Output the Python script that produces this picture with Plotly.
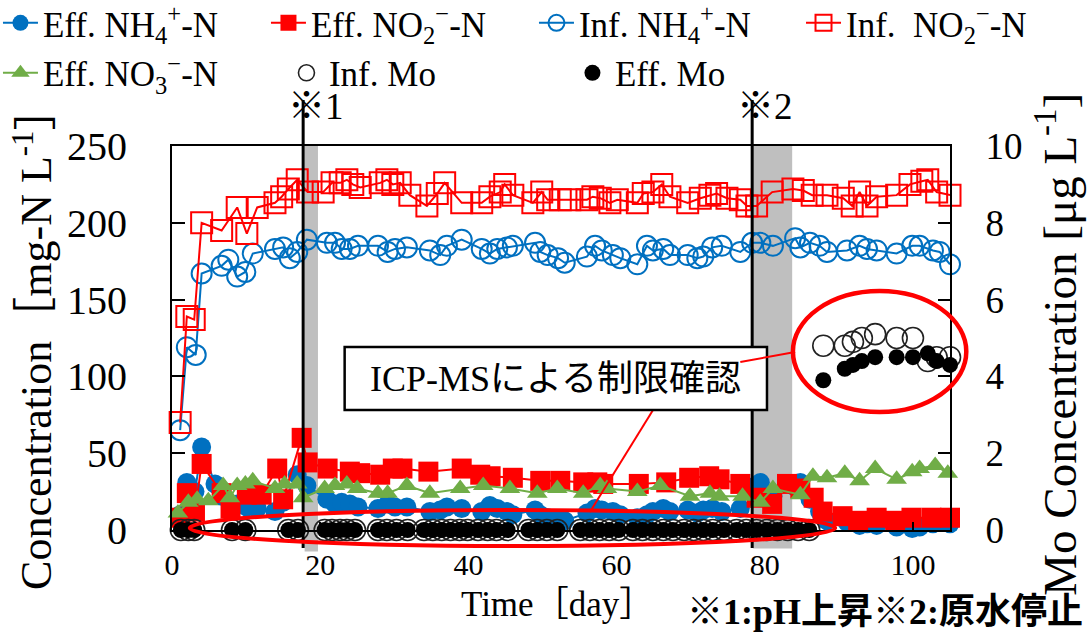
import plotly.graph_objects as go

# ---------------- data ----------------
inf_nh4_day = [1.1, 2.0, 3.2, 4.0, 6.7, 7.6, 8.8, 9.9, 10.9, 13.9, 15.0, 15.9, 16.9, 18.2, 20.9, 22.0, 22.9, 24.0,
               25.1, 27.8, 29.1, 30.1, 31.7, 34.8, 36.2, 37.1, 39.1, 41.8, 42.9, 43.9, 45.2, 46.0, 49.0, 49.7, 50.7,
               52.1, 53.0, 56.0, 57.1, 58.0, 59.5, 60.5, 62.8, 64.1, 64.9, 66.3, 67.2, 69.6, 70.9, 71.7, 72.9, 74.2,
               76.7, 78.3, 79.4, 81.1, 84.1, 84.8, 86.1, 87.4, 88.4, 91.1, 92.8, 93.8, 95.1, 97.8, 99.9, 100.9, 102.7,
               103.6, 105.0]
inf_nh4 = [65, 119, 114, 167, 172, 176, 165, 168, 180, 183, 184, 177, 181, 189, 187, 187, 183, 183,
           185, 185, 181, 183, 184, 182, 179, 185, 189, 183, 180, 183, 184, 185, 187, 181, 179,
           177, 174, 178, 185, 182, 179, 177, 173, 185, 182, 183, 179, 179, 177, 178, 184, 185,
           181, 187, 187, 185, 190, 184, 187, 185, 181, 182, 185, 183, 182, 180, 185, 185, 182,
           181, 173]

inf_no2_day = [1.1, 2.0, 3.0, 4.0, 6.7, 8.8, 10.1, 11.5, 13.9, 14.8, 15.7, 16.9, 18.3, 20.4, 21.6, 22.7, 23.6, 24.4,
               25.4, 28.1, 29.0, 29.8, 30.8, 32.1, 34.4, 35.8, 36.8, 39.1, 41.8, 42.9, 44.3, 44.9, 46.0, 48.7, 49.9,
               50.7, 52.4, 53.7, 56.0, 56.8, 57.8, 59.1, 60.1, 62.8, 63.6, 64.9, 66.1, 67.2, 69.6, 71.3, 72.6, 73.5,
               74.9, 76.7, 77.6, 78.9, 81.0, 83.8, 85.2, 86.4, 88.4, 90.6, 91.8, 92.8, 93.8, 95.1, 97.8, 99.6, 101.2,
               102.0, 103.2, 105.0]
inf_no2 = [70, 139, 137, 200, 195, 210, 193, 210, 213, 217, 222, 228, 220, 220, 226, 226, 228, 225,
           223, 226, 228, 225, 226, 218, 211, 219, 226, 213, 213, 217, 220, 225, 218, 213, 220,
           215, 215, 215, 215, 217, 216, 213, 215, 213, 219, 220, 225, 217, 213, 216, 218, 219,
           216, 215, 211, 211, 220, 222, 221, 218, 218, 216, 211, 220, 211, 217, 218, 225, 227,
           228, 220, 218]

eff_nh4_day = [1.1, 2.0, 3.1, 4.0, 5.8, 6.7, 8.8, 10.1, 11.5, 13.9, 15.0, 16.9, 18.2, 20.9, 22.0, 22.9, 24.0, 25.1,
               27.8, 29.1, 30.1, 31.7, 34.8, 36.2, 37.1, 39.1, 41.8, 42.9, 43.9, 45.2, 46.0, 49.0, 49.7, 50.7, 52.1,
               53.0, 56.0, 57.1, 58.0, 59.5, 60.5, 62.8, 64.1, 64.9, 66.3, 67.2, 69.6, 70.9, 71.7, 72.9, 74.2, 76.7,
               78.3, 79.4, 81.1, 84.1, 84.8, 86.1, 87.4, 88.4, 91.1, 92.8, 93.8, 95.1, 97.8, 99.9, 100.9, 102.7,
               103.6, 105.0]
eff_nh4 = [10, 31, 25, 54, 30, 22, 17, 15, 14, 12, 18, 36, 29, 20, 17, 18, 17, 15,
           14, 17, 15, 15, 12, 13, 15, 14, 12, 16, 14, 12, 10, 13, 10, 8, 7,
           6, 11, 14, 13, 12, 10, 8, 10, 12, 14, 12, 13, 11, 13, 14, 12, 14,
           28, 31, 22, 28, 31, 20, 12, 6, 5, 3, 4, 3, 2, 1, 2, 4,
           5, 4]

eff_no2_day = [1.1, 2.0, 3.1, 4.0, 6.7, 7.9, 10.1, 12.1, 14.2, 15.0, 17.5, 18.3, 21.0, 24.0, 25.4, 28.1, 29.8, 31.1,
               34.6, 39.1, 41.6, 43.0, 46.0, 49.7, 52.4, 55.5, 57.4, 58.2, 63.0, 66.7, 69.8, 72.5, 73.9, 76.7, 78.9,
               81.0, 83.0, 84.8, 86.6, 87.8, 90.5, 92.6, 95.1, 97.6, 99.8, 102.5, 105.0]
eff_no2 = [8, 24, 12, 43, 24, 14, 23, 23, 40, 20, 60, 44, 40, 38, 37, 36, 40, 40,
           38, 40, 36, 35, 34, 32, 32, 31, 31, 30, 30, 31, 34, 35, 33, 30, 21,
           17, 30, 27, 21, 12, 9, 6, 8, 6, 8, 8, 8]

eff_no3_day = [0.8, 2.2, 3.4, 4.9, 6.9, 7.8, 8.8, 9.9, 10.9, 13.9, 15.2, 16.9, 17.7, 20.6, 22.0, 23.6, 25.0, 27.8,
               29.1, 31.7, 34.8, 38.9, 42.0, 45.6, 49.3, 52.0, 55.5, 57.8, 58.7, 62.8, 65.9, 69.9, 72.6, 73.9, 77.0,
               79.4, 81.1, 84.8, 86.5, 88.4, 90.8, 92.8, 94.9, 97.8, 99.9, 100.9, 103.0, 104.7]
eff_no3 = [11, 18, 20, 19, 29, 21, 29, 30, 32, 27, 30, 30, 21, 27, 29, 30, 27, 24,
           24, 29, 24, 27, 29, 27, 24, 27, 24, 29, 27, 25, 29, 22, 24, 22, 22,
           18, 27, 23, 35, 34, 37, 32, 40, 33, 38, 40, 42, 37]

mo_day = [1.2, 2.2, 3.0, 8.1, 9.9, 15.7, 17.0, 20.6, 21.6, 22.7, 23.6, 24.7, 27.8, 29.0, 30.3, 31.8,
          34.0, 35.2, 36.4, 37.6, 38.8, 39.9, 41.3, 42.6, 43.8, 45.3, 48.1, 49.3, 50.6, 52.0, 55.1, 56.4,
          57.7, 59.0, 60.3, 62.2, 63.5, 64.9, 66.3, 67.6, 69.1, 70.4, 71.7, 73.0, 74.5, 76.2, 77.5, 78.9,
          80.3, 81.7, 83.1, 84.5, 86.0, 87.9, 90.8, 91.9, 93.1, 94.9, 97.8, 100.0, 102.0, 103.2, 105.0]
inf_mo = [0, 0, 0, 0, 0, 0, 0, 0, 0, 0, 0, 0, 0, 0, 0, 0,
          0, 0, 0, 0, 0, 0, 0, 0, 0, 0, 0, 0, 0, 0, 0, 0,
          0, 0, 0, 0, 0, 0, 0, 0, 0, 0, 0, 0, 0, 0, 0, 0,
          0, 0, 0, 0, 0, 4.8, 4.8, 4.9, 5.0, 5.1, 5.0, 5.0, 4.4, 4.5, 4.5]
eff_mo = [0, 0, 0, 0, 0, 0, 0, 0, 0, 0, 0, 0, 0, 0, 0, 0,
          0, 0, 0, 0, 0, 0, 0, 0, 0, 0, 0, 0, 0, 0, 0, 0,
          0, 0, 0, 0, 0, 0, 0, 0, 0, 0, 0, 0, 0, 0, 0, 0,
          0, 0, 0, 0, 0, 3.9, 4.2, 4.3, 4.4, 4.5, 4.5, 4.5, 4.6, 4.4, 4.3]

x_ticks = [0, 20, 40, 60, 80, 100]
y_ticks = [0, 50, 100, 150, 200, 250]
y2_ticks = [0, 2, 4, 6, 8, 10]

X_RANGE = [0, 105]
Y_RANGE = [0, 250]
Y2_RANGE = [0, 10]

# events (day) and highlight periods
event1_day = 17.7
event2_day = 78.3
period1 = [17.9, 19.7]
period2 = [78.4, 83.7]

BLUE = "#0070C0"
RED = "#FF0000"
GREEN = "#70AD47"
SERIF = "Liberation Serif, 'Noto Sans CJK JP', serif"
LEG_FONT = dict(family=SERIF, size=35, color="black")


def xp(d):
    return (d - X_RANGE[0]) / (X_RANGE[1] - X_RANGE[0])


def yp(v):
    return (v - Y_RANGE[0]) / (Y_RANGE[1] - Y_RANGE[0])


fig = go.Figure()

fig.add_trace(go.Scatter(x=inf_nh4_day, y=inf_nh4, mode="lines+markers", name="Inf. NH<sub>4</sub><sup>+</sup>-N",
                         line=dict(color=BLUE, width=2),
                         marker=dict(symbol="circle-open", size=20, color=BLUE, line=dict(width=2, color=BLUE)),
                         legend="legend", legendrank=3, cliponaxis=False))
fig.add_trace(go.Scatter(x=inf_no2_day, y=inf_no2, mode="lines+markers", name="Inf.\u00a0\u00a0NO<sub>2</sub><sup>\u2212</sup>-N",
                         line=dict(color=RED, width=2),
                         marker=dict(symbol="square-open", size=21, color=RED, line=dict(width=2, color=RED)),
                         legend="legend3", legendrank=1, cliponaxis=False))
fig.add_trace(go.Scatter(x=eff_nh4_day, y=eff_nh4, mode="lines+markers", name="Eff. NH<sub>4</sub><sup>+</sup>-N",
                         line=dict(color=BLUE, width=2),
                         marker=dict(symbol="circle", size=19, color=BLUE),
                         legend="legend", legendrank=1, cliponaxis=False))
fig.add_trace(go.Scatter(x=eff_no2_day, y=eff_no2, mode="lines+markers", name="Eff. NO<sub>2</sub><sup>\u2212</sup>-N",
                         line=dict(color=RED, width=2),
                         marker=dict(symbol="square", size=20, color=RED),
                         legend="legend", legendrank=2, cliponaxis=False))
fig.add_trace(go.Scatter(x=eff_no3_day, y=eff_no3, mode="lines+markers", name="Eff. NO<sub>3</sub><sup>\u2212</sup>-N",
                         line=dict(color=GREEN, width=2),
                         marker=dict(symbol="triangle-up", size=18, color=GREEN),
                         legend="legend2", legendrank=1, cliponaxis=False))
fig.add_trace(go.Scatter(x=mo_day, y=inf_mo, mode="markers", name="Inf. Mo", yaxis="y2",
                         marker=dict(symbol="circle-open", size=21, color="#222222", line=dict(width=1.6, color="#222222")),
                         legend="legend2", legendrank=2, cliponaxis=False))
fig.add_trace(go.Scatter(x=mo_day, y=eff_mo, mode="markers", name="Eff. Mo", yaxis="y2",
                         marker=dict(symbol="circle", size=16, color="black"),
                         legend="legend2", legendrank=3, cliponaxis=False))

shapes = [
    dict(type="rect", xref="paper", yref="paper", x0=xp(period1[0]), x1=xp(period1[1]), y0=yp(-14), y1=yp(250),
         fillcolor="#BFBFBF", line=dict(width=0), layer="below"),
    dict(type="rect", xref="paper", yref="paper", x0=xp(period2[0]), x1=xp(period2[1]), y0=yp(-12), y1=yp(250),
         fillcolor="#BFBFBF", line=dict(width=0), layer="below"),
    dict(type="line", xref="paper", yref="paper", x0=xp(event1_day), x1=xp(event1_day), y0=yp(-11.7), y1=yp(280),
         line=dict(color="black", width=3)),
    dict(type="line", xref="paper", yref="paper", x0=xp(event2_day), x1=xp(event2_day), y0=yp(-11.7), y1=yp(280),
         line=dict(color="black", width=3)),
    dict(type="circle", xref="paper", yref="paper", x0=xp(2.4), x1=xp(89.5), y0=yp(-10.4), y1=yp(13.0),
         line=dict(color=RED, width=4)),
    dict(type="circle", xref="paper", yref="paper", x0=xp(83.8), x1=xp(107.2), y0=yp(76.8), y1=yp(155.6),
         line=dict(color=RED, width=4.5)),
    dict(type="line", xref="paper", yref="paper", x0=xp(64.9), y0=yp(78), x1=xp(56.4), y1=yp(11.7),
         line=dict(color=RED, width=2)),
    dict(type="rect", xref="paper", yref="paper", x0=xp(23.3), x1=xp(80.3), y0=yp(78.1), y1=yp(119.1),
         fillcolor="white", line=dict(color="black", width=2.5)),
    dict(type="line", xref="paper", yref="paper", x0=xp(76.7), y0=yp(109.4), x1=xp(84.1), y1=yp(115.9),
         line=dict(color=RED, width=2)),
]

annotations = [
    dict(xref="paper", yref="paper", x=xp(51.8), y=yp(98.3), text="ICP-MSによる制限確認", showarrow=False,
         font=dict(family=SERIF, size=36, color="black"), xanchor="center", yanchor="middle"),
    dict(xref="paper", yref="paper", x=xp(19.5), y=yp(275.4), text="※1", showarrow=False,
         font=dict(family=SERIF, size=37, color="black"), xanchor="center", yanchor="middle"),
    dict(xref="paper", yref="paper", x=xp(80.0), y=yp(275.4), text="※2", showarrow=False,
         font=dict(family=SERIF, size=37, color="black"), xanchor="center", yanchor="middle"),
    dict(xref="paper", yref="paper", x=-0.1787, y=0.500, text="Concentration［mg-N L<sup>-1</sup>］", showarrow=False,
         textangle=-90, font=dict(family=SERIF, size=44, color="black"), xanchor="center", yanchor="middle"),
    dict(xref="paper", yref="paper", x=1.1375, y=0.485, text="Mo Concentration [μg L<sup>-1</sup>]", showarrow=False,
         textangle=-90, font=dict(family=SERIF, size=47, color="black"), xanchor="center", yanchor="middle"),
    dict(xref="paper", yref="paper", x=0.495, y=-0.195, text="Time［day］", showarrow=False,
         font=dict(family=SERIF, size=35, color="black"), xanchor="center", yanchor="middle"),
    dict(xref="paper", yref="paper", x=1.1735, y=-0.2135, text="<b>※1:pH上昇※2:原水停止</b>", showarrow=False,
         font=dict(family=SERIF, size=36, color="black"), xanchor="right", yanchor="middle"),
]

fig.update_layout(
    width=1090, height=632,
    margin=dict(l=172, r=140, t=146, b=102, autoexpand=False),
    paper_bgcolor="white", plot_bgcolor="rgba(0,0,0,0)",
    font=dict(family=SERIF, color="black"),
    showlegend=True,
    shapes=shapes,
    annotations=annotations,
    legend=dict(orientation="h", x=-0.2237, xanchor="left", y=1.320, yanchor="middle",
                entrywidth=218, entrywidthmode="pixels", itemwidth=35,
                font=LEG_FONT, bgcolor="rgba(0,0,0,0)", traceorder="normal"),
    legend3=dict(orientation="h", x=0.8085, xanchor="left", y=1.320, yanchor="middle",
                 itemwidth=35, font=LEG_FONT, bgcolor="rgba(0,0,0,0)", traceorder="normal"),
    legend2=dict(orientation="h", x=-0.2237, xanchor="left", y=1.190, yanchor="middle",
                 entrywidth=236, entrywidthmode="pixels", itemwidth=35,
                 font=LEG_FONT, bgcolor="rgba(0,0,0,0)", traceorder="normal"),
    xaxis=dict(range=X_RANGE, tickvals=x_ticks, ticks="inside", ticklen=8, tickwidth=2, tickcolor="black",
               showline=True, linecolor="black", linewidth=2, mirror=True, showgrid=False, zeroline=False,
               tickfont=dict(family=SERIF, size=30, color="black"), ticklabelstandoff=7),
    yaxis=dict(range=Y_RANGE, tickvals=y_ticks, ticks="inside", ticklen=13, tickwidth=2, tickcolor="black",
               showline=True, linecolor="black", linewidth=2, showgrid=False, zeroline=False,
               tickfont=dict(family=SERIF, size=40, color="black"), ticklabelstandoff=35),
    yaxis2=dict(range=Y2_RANGE, tickvals=y2_ticks, overlaying="y", side="right", ticks="inside", ticklen=12,
                tickwidth=2, tickcolor="black", showline=True, linecolor="black", linewidth=2, showgrid=False,
                zeroline=False, tickfont=dict(family=SERIF, size=37, color="black"), ticklabelstandoff=26),
)

fig.write_html("out.html")
